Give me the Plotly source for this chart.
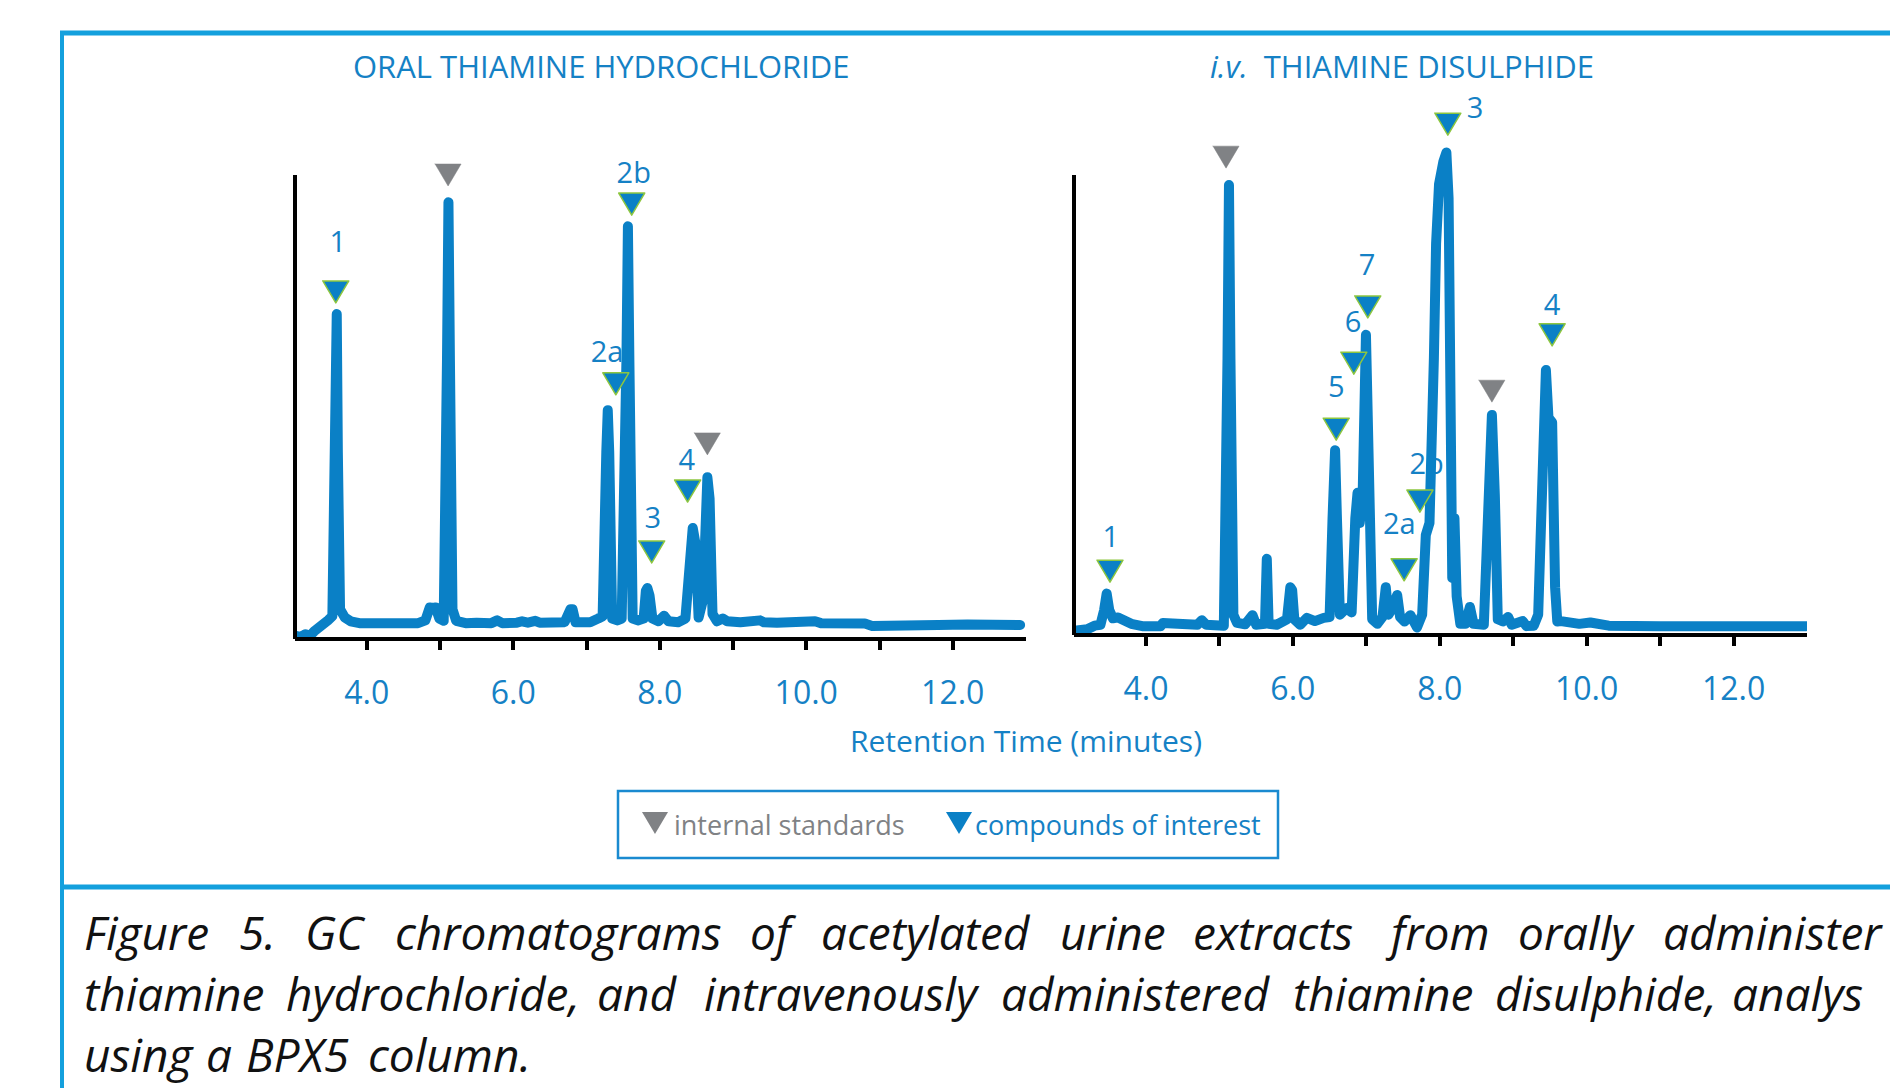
import plotly.graph_objects as go

W, H = 1890, 1088
LINE_BLUE = "#0A80C6"
TEXT_BLUE = "#1581C5"
FRAME_BLUE = "#14A0DD"
BOX_BLUE = "#1A8AD0"
GREY = "#808285"
GREEN = "#8DC63F"
FONT = "Open Sans"

# ---------------- data (retention time in minutes, relative intensity) ----------------
left_time = [3.02, 3.10, 3.16, 3.22, 3.28, 3.34, 3.40, 3.47, 3.53, 3.575, 3.590, 3.605, 3.635,
             3.70, 3.78, 3.90, 4.05, 4.20, 4.30, 4.36, 4.55, 4.70, 4.80, 4.86, 4.90, 4.94, 4.99,
             5.05, 5.095, 5.115, 5.135, 5.17, 5.22, 5.35, 5.50, 5.70, 5.78, 5.85, 6.05, 6.12,
             6.20, 6.30, 6.36, 6.55, 6.70, 6.78, 6.81, 6.85, 7.05, 7.16, 7.22, 7.27, 7.29, 7.31,
             7.35, 7.42, 7.48, 7.545, 7.565, 7.585, 7.63, 7.70, 7.78, 7.81, 7.83, 7.86, 7.90,
             7.98, 8.06, 8.12, 8.25, 8.35, 8.41, 8.45, 8.49, 8.53, 8.59, 8.62, 8.65, 8.68, 8.72,
             8.78, 8.86, 8.92, 9.10, 9.37, 9.42, 9.60, 9.87, 9.92, 10.12, 10.20, 10.50, 10.80,
             10.90, 11.20, 11.40, 11.80, 12.20, 12.60, 12.92]
left_signal = [0.3, 0.0, 0.6, 0.2, 1.2, 2.2, 3.2, 3.6, 4.5, 40.0, 69.9, 40.0, 6.0,
               4.2, 3.4, 3.0, 3.0, 3.0, 3.4, 3.0, 3.0, 3.0, 3.6, 6.4, 6.3, 6.4, 4.0,
               3.5, 60.0, 94.1, 60.0, 6.0, 3.5, 3.0, 3.1, 3.0, 3.6, 3.0, 3.1, 3.4,
               3.1, 3.5, 3.1, 3.0, 3.2, 6.0, 6.0, 3.2, 3.2, 4.0, 4.5, 40.0, 49.1, 40.0,
               4.0, 3.6, 4.0, 60.0, 88.9, 60.0, 4.0, 3.6, 4.0, 10.0, 10.6, 9.0, 4.0,
               3.4, 4.6, 3.4, 3.2, 4.0, 20.0, 23.6, 20.0, 4.2, 8.0, 30.0, 34.6, 30.0, 5.0,
               3.4, 4.0, 3.4, 3.2, 3.6, 3.2, 3.1, 3.5, 3.1, 3.4, 3.0, 3.0, 2.9,
               2.4, 2.3, 2.6, 2.6, 2.7, 2.6, 2.6]

right_time = [3.02, 3.10, 3.20, 3.30, 3.38, 3.43, 3.465, 3.50, 3.55, 3.62, 3.70, 3.80, 3.95,
              4.20, 4.23, 4.30, 4.40, 4.46, 4.55, 4.70, 4.76, 4.82, 4.94, 5.00, 5.06, 5.11,
              5.13, 5.15, 5.19, 5.24, 5.35, 5.45, 5.50, 5.62, 5.645, 5.67, 5.78, 5.92, 5.965,
              5.99, 6.02, 6.10, 6.19, 6.30, 6.42, 6.50, 6.54, 6.575, 6.60, 6.64, 6.73, 6.80,
              6.85, 6.88, 6.91, 6.95, 6.995, 7.04, 7.08, 7.15, 7.22, 7.265, 7.30, 7.34, 7.42,
              7.46, 7.52, 7.60, 7.64, 7.69, 7.76, 7.81, 7.86, 7.89, 7.905, 7.92, 7.95, 7.99,
              8.05, 8.09, 8.12, 8.13, 8.14, 8.17, 8.20, 8.23, 8.28, 8.35, 8.41, 8.46, 8.60,
              8.67, 8.71, 8.75, 8.79, 8.86, 8.93, 8.98, 9.13, 9.18, 9.28, 9.34, 9.38, 9.41,
              9.445, 9.48, 9.53, 9.57, 9.60, 9.65, 9.75, 9.90, 10.05, 10.12, 10.30, 11.00,
              12.00, 12.99]
right_signal = [0.5, 0.6, 0.8, 1.6, 1.8, 5.0, 8.6, 5.0, 3.2, 3.4, 2.8, 2.0, 1.5,
                1.5, 2.2, 2.2, 2.0, 2.2, 1.8, 1.8, 2.8, 1.8, 1.7, 1.9, 1.6, 60.0,
                97.8, 60.0, 4.0, 2.2, 1.9, 3.9, 1.8, 2.0, 16.2, 2.0, 1.8, 3.0, 10.0,
                9.4, 3.0, 1.8, 3.3, 2.6, 3.3, 3.5, 25.0, 39.9, 25.0, 4.0, 5.4, 4.5,
                25.0, 30.6, 24.0, 30.0, 65.1, 40.0, 3.0, 2.0, 3.5, 10.0, 4.0, 5.0, 8.3,
                3.5, 2.5, 3.9, 2.0, 1.2, 4.0, 21.4, 24.0, 42.0, 32.0, 60.0, 85.0, 98.0,
                103.0, 104.9, 95.0, 60.0, 30.0, 12.0, 25.1, 8.0, 2.0, 2.0, 5.7, 2.0, 1.8,
                30.0, 47.6, 30.0, 3.0, 2.5, 3.5, 1.8, 2.6, 1.5, 1.6, 4.0, 30.0, 47.0,
                57.4, 47.0, 46.0, 10.0, 2.5, 2.6, 2.3, 2.0, 2.3, 2.0, 1.6, 1.5,
                1.5, 1.5]

# peak markers (position of triangle centre) and peak labels
left_is_time = [5.11, 8.65]
left_is_height = [100.0, 41.8]
left_cmp_time = [3.577, 7.40, 7.617, 7.89, 8.38]
left_cmp_height = [74.7, 54.8, 93.7, 18.4, 31.6]
left_label_text = ["1", "2a", "2b", "3", "4"]
left_label_time = [3.604, 7.28, 7.645, 7.905, 8.37]
left_label_height = [84.8, 61.0, 99.8, 25.1, 37.7]

right_is_time = [5.09, 8.71]
right_is_height = [103.9, 52.8]
right_cmp_time = [3.51, 6.59, 6.83, 7.02, 7.515, 7.73, 8.11, 9.53]
right_cmp_height = [13.5, 44.5, 58.9, 71.2, 13.8, 28.8, 111.1, 65.1]
right_label_text = ["1", "5", "6", "7", "2a", "2b", "3", "4"]
right_label_time = [3.52, 6.59, 6.82, 7.01, 7.45, 7.82, 8.48, 9.53]
right_label_height = [20.3, 53.1, 67.2, 79.7, 23.1, 36.2, 114.0, 71.0]

tick_vals = [4, 5, 6, 7, 8, 9, 10, 11, 12]
tick_text = ["4.0", "", "6.0", "", "8.0", "", "10.0", "", "12.0"]

panel_titles = ["ORAL THIAMINE HYDROCHLORIDE", "<i>i.v.</i>\u00a0\u00a0THIAMINE DISULPHIDE"]
x_title = "Retention Time (minutes)"
legend_labels = ["internal standards", "compounds of interest"]
caption_line1 = ["Figure", "5.", "GC", "chromatograms", "of", "acetylated", "urine",
                 "extracts", "from", "orally", "administer"]
caption_line2 = ["thiamine", "hydrochloride,", "and", "intravenously", "administered",
                 "thiamine", "disulphide,", "analys"]
caption_line3 = ["using", "a", "BPX5", "column."]

# ---------------- geometry (pixels) ----------------
T0, T1 = 3.02, 13.0
LX0, LX1 = 295, 1026
RX0, RX1 = 1074, 1807
TOP_PX = 100
L_BASE, R_BASE = 637, 633
AX_TOP = 175
l_unit = (L_BASE - AX_TOP) / 100.0
r_unit = (R_BASE - AX_TOP) / 100.0
l_ytop = (L_BASE - TOP_PX) / l_unit
r_ytop = (R_BASE - TOP_PX) / r_unit
l_pxmin = (LX1 - LX0) / (T1 - T0)
r_pxmin = (RX1 - RX0) / (T1 - T0)


def pxx(x):
    return x / W


def pyy(y):
    return 1 - y / H


def triangles(times, heights, pxmin, pxunit, w=26.0, h=22.0):
    xs, ys = [], []
    dx = (w / 2) / pxmin
    dy = (h / 2) / pxunit
    for t, v in zip(times, heights):
        xs += [t - dx, t + dx, t, t - dx, None]
        ys += [v + dy, v + dy, v - dy, v + dy, None]
    return xs, ys


fig = go.Figure()

panels = [
    dict(xa="x", ya="y", t=left_time, s=left_signal, ist=left_is_time, ish=left_is_height,
         ct=left_cmp_time, ch=left_cmp_height, lt=left_label_time, lh=left_label_height,
         ltx=left_label_text, pxmin=l_pxmin, unit=l_unit),
    dict(xa="x2", ya="y2", t=right_time, s=right_signal, ist=right_is_time, ish=right_is_height,
         ct=right_cmp_time, ch=right_cmp_height, lt=right_label_time, lh=right_label_height,
         ltx=right_label_text, pxmin=r_pxmin, unit=r_unit),
]

for p in panels:
    # labels first so that peaks draw over them
    fig.add_trace(go.Scatter(x=p["lt"], y=p["lh"], text=p["ltx"], mode="text",
                             textposition="middle center", cliponaxis=False,
                             textfont=dict(family=FONT, size=29, color=TEXT_BLUE),
                             xaxis=p["xa"], yaxis=p["ya"], showlegend=False, hoverinfo="skip"))
    fig.add_trace(go.Scatter(x=p["t"], y=p["s"], mode="lines",
                             line=dict(color=LINE_BLUE, width=10),
                             xaxis=p["xa"], yaxis=p["ya"], showlegend=False, hoverinfo="skip"))
    gx, gy = triangles(p["ist"], p["ish"], p["pxmin"], p["unit"])
    fig.add_trace(go.Scatter(x=gx, y=gy, mode="lines", fill="toself", fillcolor=GREY,
                             line=dict(color=GREY, width=0.5),
                             xaxis=p["xa"], yaxis=p["ya"], showlegend=False, hoverinfo="skip"))
    bx, by = triangles(p["ct"], p["ch"], p["pxmin"], p["unit"])
    fig.add_trace(go.Scatter(x=bx, y=by, mode="lines", fill="toself", fillcolor=LINE_BLUE,
                             line=dict(color=GREEN, width=1.5),
                             xaxis=p["xa"], yaxis=p["ya"], showlegend=False, hoverinfo="skip"))

xcommon = dict(range=[T0, T1], showgrid=False, zeroline=False, showline=True,
               linecolor="black", linewidth=4, ticks="outside", ticklen=9, tickwidth=4,
               tickcolor="black", tickvals=tick_vals, ticktext=tick_text, ticklabelstandoff=16,
               tickfont=dict(family=FONT, size=32, color=TEXT_BLUE), fixedrange=True)
ycommon = dict(showgrid=False, zeroline=False, showline=False, showticklabels=False,
               ticks="", fixedrange=True)

fig.update_layout(
    width=W, height=H, autosize=False,
    margin=dict(l=0, r=0, t=0, b=0),
    paper_bgcolor="white", plot_bgcolor="rgba(0,0,0,0)",
    xaxis=dict(xcommon, domain=[pxx(LX0), pxx(LX1)], anchor="y"),
    yaxis=dict(ycommon, domain=[pyy(L_BASE), pyy(TOP_PX)], range=[0, l_ytop], anchor="x"),
    xaxis2=dict(xcommon, domain=[pxx(RX0), pxx(RX1)], anchor="y2"),
    yaxis2=dict(ycommon, domain=[pyy(R_BASE), pyy(TOP_PX)], range=[0, r_ytop], anchor="x2"),
)

shapes = []
# vertical axis lines (drawn up to 100 units)
shapes.append(dict(type="line", xref="paper", yref="paper", x0=pxx(LX0), x1=pxx(LX0),
                   y0=pyy(L_BASE + 2), y1=pyy(AX_TOP), line=dict(color="black", width=4)))
shapes.append(dict(type="line", xref="paper", yref="paper", x0=pxx(RX0), x1=pxx(RX0),
                   y0=pyy(R_BASE + 2), y1=pyy(AX_TOP), line=dict(color="black", width=4)))
# frame
shapes.append(dict(type="line", xref="paper", yref="paper", x0=pxx(60), x1=pxx(1900),
                   y0=pyy(33), y1=pyy(33), line=dict(color=FRAME_BLUE, width=5)))
shapes.append(dict(type="line", xref="paper", yref="paper", x0=pxx(62), x1=pxx(62),
                   y0=pyy(31), y1=pyy(1095), line=dict(color=FRAME_BLUE, width=4)))
shapes.append(dict(type="line", xref="paper", yref="paper", x0=pxx(60), x1=pxx(1900),
                   y0=pyy(887), y1=pyy(887), line=dict(color=FRAME_BLUE, width=5)))
# legend box
shapes.append(dict(type="rect", xref="paper", yref="paper", x0=pxx(618), x1=pxx(1278),
                   y0=pyy(858), y1=pyy(791), line=dict(color=BOX_BLUE, width=2.5)))


def tri_shape(cx, cy, color, w=26, h=22):
    path = "M {:.5f},{:.5f} L {:.5f},{:.5f} L {:.5f},{:.5f} Z".format(
        pxx(cx - w / 2), pyy(cy - h / 2), pxx(cx + w / 2), pyy(cy - h / 2), pxx(cx), pyy(cy + h / 2))
    return dict(type="path", xref="paper", yref="paper", path=path, fillcolor=color,
                line=dict(color=color, width=0))


shapes.append(tri_shape(655, 823, GREY))
shapes.append(tri_shape(959, 823, LINE_BLUE))
fig.update_layout(shapes=shapes)

ann = []
ann.append(dict(text=panel_titles[0], x=pxx(601), y=pyy(66), xref="paper", yref="paper",
                showarrow=False, xanchor="center", yanchor="middle",
                font=dict(family=FONT, size=31, color=TEXT_BLUE)))
ann.append(dict(text=panel_titles[1], x=pxx(1402), y=pyy(66), xref="paper", yref="paper",
                showarrow=False, xanchor="center", yanchor="middle",
                font=dict(family=FONT, size=31, color=TEXT_BLUE)))
ann.append(dict(text=x_title, x=pxx(1026), y=pyy(740), xref="paper", yref="paper",
                showarrow=False, xanchor="center", yanchor="middle",
                font=dict(family=FONT, size=30, color=TEXT_BLUE)))
ann.append(dict(text=legend_labels[0], x=pxx(672), y=pyy(824), xref="paper", yref="paper",
                showarrow=False, xanchor="left", yanchor="middle",
                font=dict(family=FONT, size=27, color=GREY)))
ann.append(dict(text=legend_labels[1], x=pxx(973), y=pyy(824), xref="paper", yref="paper",
                showarrow=False, xanchor="left", yanchor="middle",
                font=dict(family=FONT, size=27, color=TEXT_BLUE)))

# justified caption: word start positions (px)
cap1_x = [82, 237, 303, 393, 748, 819, 1058, 1191, 1383, 1516, 1661]
cap2_x = [82, 284, 595, 702, 999, 1291, 1493, 1730]
cap3_x = [82, 204, 244, 366]
cap_font = dict(family=FONT, size=46, color="#111111")
for words, xs, yline in ((caption_line1, cap1_x, 932), (caption_line2, cap2_x, 993),
                         (caption_line3, cap3_x, 1054)):
    for wd, x in zip(words, xs):
        ann.append(dict(text="<i>" + wd + "</i>", x=pxx(x), y=pyy(yline), xref="paper",
                        yref="paper", showarrow=False, xanchor="left", yanchor="middle",
                        font=cap_font))
fig.update_layout(annotations=ann)

post = ("var s=document.createElement('style');"
        "s.innerHTML='html,body{margin:0 !important;padding:0 !important;overflow:hidden;}"
        ".js-line{stroke-linejoin:round !important;stroke-linecap:round !important;}';"
        "document.head.appendChild(s);")
fig.write_html("out.html", config={"displayModeBar": False, "staticPlot": True}, post_script=post)
